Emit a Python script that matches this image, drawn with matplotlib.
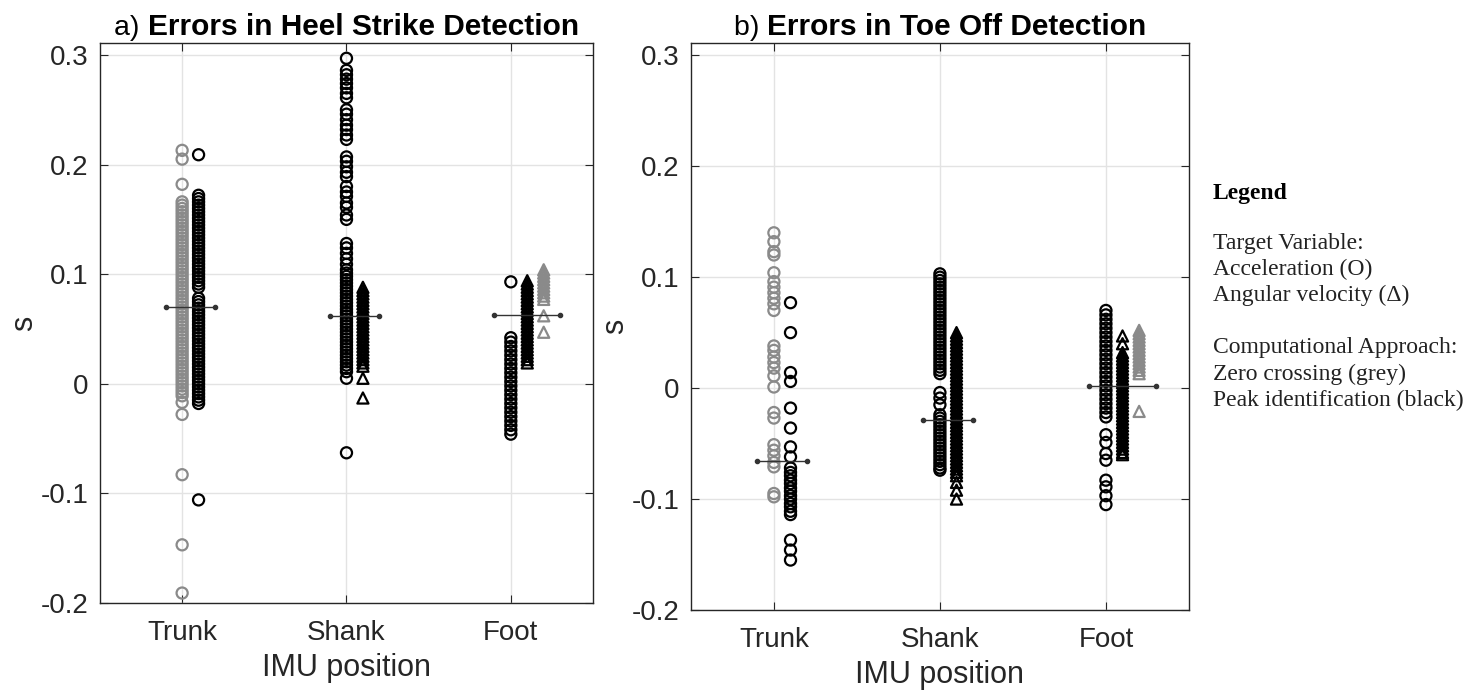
import numpy as np
import matplotlib
matplotlib.use("Agg")
import matplotlib.pyplot as plt

plt.rcParams['font.family'] = ['Liberation Sans', 'DejaVu Sans']

groups = ['Trunk', 'Shank', 'Foot']

# a) heel strike errors (s)
hs_trunk_acc_grey = [0.213, 0.205, 0.182, 0.166, 0.163, 0.160, 0.157, 0.154, 0.151, 0.148, 0.145,
                     0.142, 0.139, 0.136, 0.133, 0.130, 0.127, 0.124, 0.121, 0.118, 0.115, 0.112,
                     0.109, 0.106, 0.103, 0.100, 0.097, 0.094, 0.091, 0.088, 0.085, 0.082, 0.079,
                     0.076, 0.073, 0.070, 0.067, 0.064, 0.061, 0.058, 0.055, 0.052, 0.049, 0.046,
                     0.043, 0.040, 0.037, 0.034, 0.031, 0.028, 0.025, 0.022, 0.019, 0.016, 0.013,
                     0.010, 0.007, 0.004, 0.001, -0.002, -0.005, -0.008, -0.011,
                     -0.017, -0.028, -0.083, -0.147, -0.191]
hs_trunk_acc_black = [0.209, 0.172, 0.169, 0.166, 0.163, 0.160, 0.157, 0.154, 0.151, 0.148, 0.145,
                      0.142, 0.139, 0.136, 0.133, 0.130, 0.127, 0.124, 0.121, 0.118, 0.115, 0.112,
                      0.109, 0.106, 0.103, 0.100, 0.097, 0.094, 0.091, 0.088, 0.078, 0.075, 0.072,
                      0.069, 0.066, 0.063, 0.060, 0.057, 0.054, 0.051, 0.048, 0.045, 0.042, 0.039,
                      0.036, 0.033, 0.030, 0.027, 0.024, 0.021, 0.018, 0.015, 0.012, 0.009, 0.006,
                      0.003, 0.000, -0.003, -0.006, -0.009, -0.012, -0.015, -0.018, -0.106]
hs_shank_acc_black = [0.297, 0.286, 0.282, 0.278, 0.274, 0.270, 0.265, 0.261, 0.250, 0.246, 0.241,
                      0.236, 0.232, 0.227, 0.223, 0.207, 0.203, 0.198, 0.193, 0.189, 0.180, 0.175,
                      0.171, 0.165, 0.161, 0.154, 0.150, 0.128, 0.124, 0.119, 0.114, 0.109, 0.104,
                      0.101, 0.098, 0.095, 0.092, 0.089, 0.086, 0.083, 0.080, 0.077, 0.074, 0.071,
                      0.068, 0.065, 0.062, 0.059, 0.056, 0.053, 0.050, 0.047, 0.044, 0.041, 0.038,
                      0.035, 0.032, 0.029, 0.026, 0.023, 0.020, 0.017, 0.014, 0.011, 0.005, -0.063]
hs_shank_gyr_black = [0.088, 0.085, 0.082, 0.079, 0.076, 0.073, 0.070, 0.067, 0.064, 0.061, 0.058,
                      0.055, 0.052, 0.049, 0.046, 0.043, 0.040, 0.037, 0.034, 0.031, 0.028, 0.025,
                      0.022, 0.019, 0.016, 0.005, -0.013]
hs_foot_acc_black = [0.093, 0.042, 0.038, 0.034, 0.030, 0.026, 0.022, 0.018, 0.014, 0.010, 0.006,
                     0.002, -0.002, -0.006, -0.010, -0.014, -0.018, -0.022, -0.026, -0.030, -0.034,
                     -0.038, -0.042, -0.046]
hs_foot_gyr_black = [0.094, 0.091, 0.088, 0.085, 0.082, 0.079, 0.076, 0.073, 0.070, 0.067, 0.064,
                     0.061, 0.058, 0.055, 0.052, 0.049, 0.046, 0.043, 0.040, 0.037, 0.034, 0.031,
                     0.028, 0.025, 0.022, 0.019]
hs_foot_gyr_grey = [0.104, 0.101, 0.098, 0.095, 0.092, 0.089, 0.086, 0.083, 0.080, 0.077, 0.062,
                    0.047]
hs_means = [0.070, 0.062, 0.063]

# b) toe off errors (s)
to_trunk_acc_grey = [0.140, 0.132, 0.123, 0.120, 0.104, 0.096, 0.091, 0.086, 0.081, 0.076, 0.070,
                     0.038, 0.034, 0.028, 0.023, 0.018, 0.011, 0.001, -0.022, -0.027, -0.051,
                     -0.056, -0.061, -0.067, -0.071, -0.095, -0.098]
to_trunk_acc_black = [0.077, 0.050, 0.014, 0.006, -0.018, -0.036, -0.053, -0.062, -0.072, -0.076,
                      -0.079, -0.083, -0.086, -0.090, -0.093, -0.097, -0.100, -0.104, -0.107,
                      -0.111, -0.114, -0.137, -0.146, -0.155]
to_shank_acc_black = [0.103, 0.100, 0.097, 0.094, 0.091, 0.088, 0.085, 0.082, 0.079, 0.076, 0.073,
                      0.070, 0.067, 0.064, 0.061, 0.058, 0.055, 0.052, 0.049, 0.046, 0.043, 0.040,
                      0.037, 0.034, 0.031, 0.028, 0.025, 0.022, 0.019, 0.016, 0.013, -0.004, -0.009,
                      -0.015, -0.024, -0.027, -0.030, -0.033, -0.036, -0.039, -0.042, -0.045,
                      -0.048, -0.051, -0.054, -0.057, -0.060, -0.063, -0.066, -0.069, -0.072,
                      -0.074]
to_shank_gyr_black = [0.050, 0.047, 0.044, 0.041, 0.038, 0.035, 0.032, 0.029, 0.026, 0.023, 0.020,
                      0.017, 0.014, 0.011, 0.008, 0.005, 0.002, -0.001, -0.004, -0.007, -0.010,
                      -0.013, -0.016, -0.019, -0.022, -0.025, -0.028, -0.031, -0.034, -0.037,
                      -0.040, -0.043, -0.046, -0.049, -0.052, -0.055, -0.058, -0.061, -0.064,
                      -0.067, -0.070, -0.073, -0.076, -0.079, -0.085, -0.092, -0.100]
to_foot_acc_black = [0.070, 0.066, 0.062, 0.058, 0.054, 0.050, 0.046, 0.042, 0.038, 0.034, 0.030,
                     0.026, 0.022, 0.018, 0.014, 0.010, 0.006, 0.002, -0.002, -0.006, -0.010,
                     -0.014, -0.018, -0.022, -0.026, -0.042, -0.049, -0.059, -0.065, -0.083,
                     -0.089, -0.097, -0.105]
to_foot_gyr_black = [0.047, 0.040, 0.032, 0.029, 0.026, 0.023, 0.020, 0.017, 0.014, 0.011, 0.008,
                     0.005, 0.002, -0.001, -0.004, -0.007, -0.010, -0.013, -0.016, -0.019, -0.022,
                     -0.025, -0.028, -0.031, -0.034, -0.037, -0.040, -0.043, -0.046, -0.049,
                     -0.052, -0.055, -0.058, -0.060]
to_foot_gyr_grey = [0.052, 0.049, 0.046, 0.043, 0.040, 0.037, 0.034, 0.031, 0.028, 0.025, 0.022,
                    0.019, 0.016, 0.013, -0.021]
to_means = [-0.066, -0.029, 0.002]

grey = '#8a8a8a'

# (group, offset, values, marker, colour)
hs_series = [(1, 0.0, hs_trunk_acc_grey, 'o', grey),
             (1, 0.1, hs_trunk_acc_black, 'o', 'k'),
             (2, 0.0, hs_shank_acc_black, 'o', 'k'),
             (2, 0.1, hs_shank_gyr_black, '^', 'k'),
             (3, 0.0, hs_foot_acc_black, 'o', 'k'),
             (3, 0.1, hs_foot_gyr_black, '^', 'k'),
             (3, 0.2, hs_foot_gyr_grey, '^', grey)]
to_series = [(1, 0.0, to_trunk_acc_grey, 'o', grey),
             (1, 0.1, to_trunk_acc_black, 'o', 'k'),
             (2, 0.0, to_shank_acc_black, 'o', 'k'),
             (2, 0.1, to_shank_gyr_black, '^', 'k'),
             (3, 0.0, to_foot_acc_black, 'o', 'k'),
             (3, 0.1, to_foot_gyr_black, '^', 'k'),
             (3, 0.2, to_foot_gyr_grey, '^', grey)]

fig = plt.figure(figsize=(14.7, 6.93), dpi=100)
ax1 = fig.add_axes([0.068, 0.130, 0.3354, 0.808])
ax2 = fig.add_axes([0.470, 0.1198, 0.3388, 0.818])


def draw(ax, series, means, label, title):
    for g, off, vals, m, c in series:
        ax.scatter(np.full(len(vals), g + off), vals, s=64, marker=m,
                   facecolors='none', edgecolors=c, linewidths=1.6, zorder=3)
    for g, mu in zip([1, 2, 3], means):
        offs = [off for gg, off, v, m, c in series if gg == g]
        ax.plot([g + min(offs) - 0.1, g + max(offs) + 0.1], [mu, mu], color='#333333',
                lw=1.0, marker='o', ms=3, zorder=4)
    ax.set_xlim(0.5, 3.5)
    ax.set_ylim(-0.2, 0.311)
    ax.set_xticks([1, 2, 3])
    ax.set_xticklabels(groups)
    ax.set_yticks([-0.2, -0.1, 0, 0.1, 0.2, 0.3])
    ax.set_yticklabels(['-0.2', '-0.1', '0', '0.1', '0.2', '0.3'])
    ax.grid(True, color='#e3e3e3', lw=1.0, zorder=0)
    ax.set_axisbelow(True)
    ax.tick_params(direction='in', length=6, labelsize=20, colors='#262626',
                   top=True, right=True, pad=8)
    ax.tick_params(axis='x', pad=12)
    for sp in ax.spines.values():
        sp.set_color('#262626')
        sp.set_linewidth(1.0)
    ax.set_xlabel('IMU position', fontsize=22, color='#262626', labelpad=5)
    ax.set_ylabel('s', fontsize=22, color='#262626', labelpad=1)
    # title: normal label + bold text, centred over the axes
    t1 = ax.text(0, 1.003, label, transform=ax.transAxes, fontsize=20.5, va='bottom')
    t2 = ax.text(0, 1.003, title, transform=ax.transAxes, fontsize=21.5, fontweight='bold',
                 va='bottom')
    fig.canvas.draw()
    r = fig.canvas.get_renderer()
    w1 = t1.get_window_extent(r).width
    w2 = t2.get_window_extent(r).width
    aw = ax.get_window_extent(r).width
    x0 = 0.5 - (w1 + w2) / 2 / aw
    t1.set_x(x0)
    t2.set_x(x0 + w1 / aw)


draw(ax1, hs_series, hs_means, 'a) ', 'Errors in Heel Strike Detection')
draw(ax2, to_series, to_means, 'b) ', 'Errors in Toe Off Detection')

serif = ['Liberation Serif', 'DejaVu Serif']
fig.text(1213 / 1470, 1 - 193 / 693, 'Legend', family=serif, fontsize=17, fontweight='bold',
         va='center')
legend_lines = ['Target Variable:', 'Acceleration (O)', 'Angular velocity (\u0394)', '',
                'Computational Approach:', 'Zero crossing (grey)', 'Peak identification (black)']
for i, s in enumerate(legend_lines):
    fig.text(1213 / 1470, 1 - (243 + 26.2 * i) / 693, s, family=serif, fontsize=17,
             color='#222222', va='center')

fig.savefig('out.png', dpi=100)
